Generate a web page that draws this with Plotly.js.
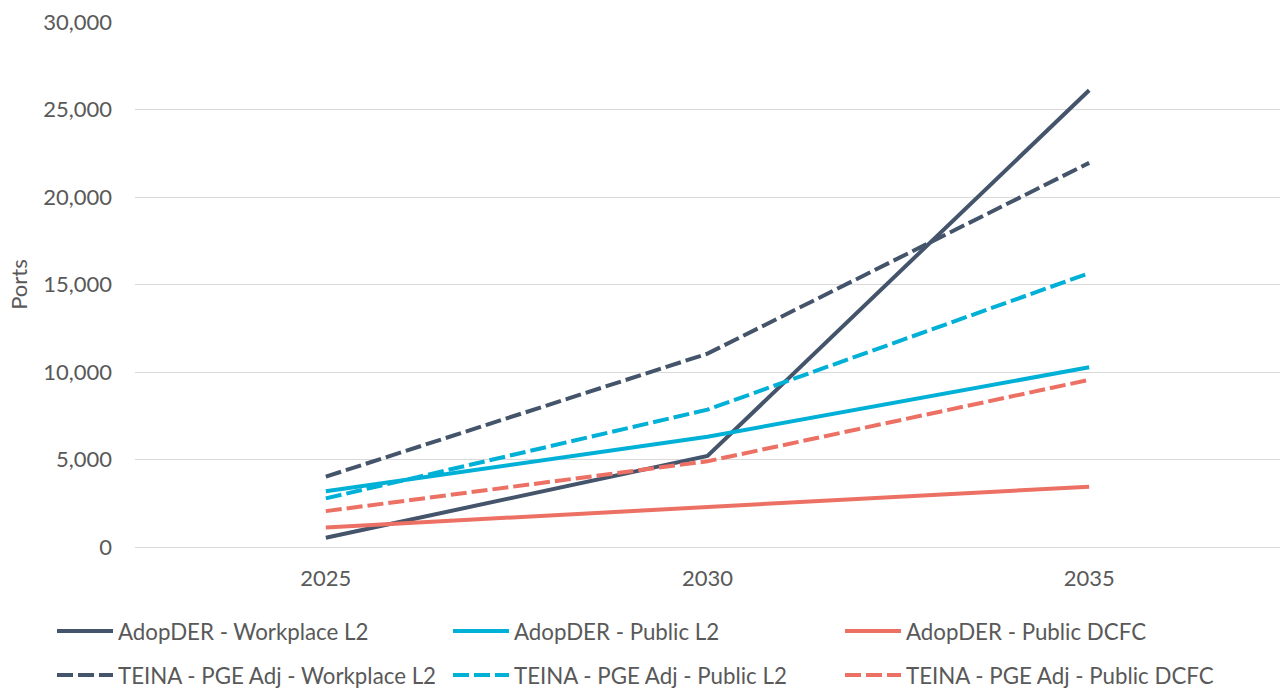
<!DOCTYPE html>
<html>
<head>
<meta charset="utf-8">
<script src="https://cdn.plot.ly/plotly-3.0.1.min.js"></script>
<style>
html,body{margin:0;padding:0;background:#fff;}
#chart{width:1281px;height:688px;}
</style>
</head>
<body>
<div id="chart"></div>
<script>
const years = ['2025', '2030', '2035'];
const adopWorkplaceL2 = [530, 5200, 26100];
const adopPublicL2 = [3180, 6300, 10270];
const adopPublicDCFC = [1120, 2300, 3450];
const teinaWorkplaceL2 = [4020, 11050, 21950];
const teinaPublicL2 = [2780, 7850, 15650];
const teinaPublicDCFC = [2050, 4900, 9550];
const seriesNames = [
  'AdopDER - Workplace L2', 'AdopDER - Public L2', 'AdopDER - Public DCFC',
  'TEINA - PGE Adj - Workplace L2', 'TEINA - PGE Adj - Public L2', 'TEINA - PGE Adj - Public DCFC'
];
const yTicks = [0, 5000, 10000, 15000, 20000, 25000, 30000];
const yTickLabels = ['0', '5,000', '10,000', '15,000', '20,000', '25,000', '30,000'];

const NAVY = '#44546A', CYAN = '#00B0D6', RED = '#EC7063';
const DASH = '16px,5px';
const FONT = 'Lato, "Open Sans", sans-serif';
const TXT = '#595959';

function tr(name, y, color, dash, legend) {
  return {
    type: 'scatter', mode: 'lines', name: name, x: years, y: y,
    line: {color: color, width: 4, dash: dash},
    legend: legend, hoverinfo: 'x+y+name'
  };
}

const data = [
  tr(seriesNames[0], adopWorkplaceL2, NAVY, 'solid', 'legend'),
  tr(seriesNames[1], adopPublicL2, CYAN, 'solid', 'legend2'),
  tr(seriesNames[2], adopPublicDCFC, RED, 'solid', 'legend3'),
  tr(seriesNames[3], teinaWorkplaceL2, NAVY, DASH, 'legend4'),
  tr(seriesNames[4], teinaPublicL2, CYAN, DASH, 'legend5'),
  tr(seriesNames[5], teinaPublicDCFC, RED, DASH, 'legend6')
];

function leg(px, py) {
  return {
    orientation: 'h', xref: 'container', yref: 'container',
    xanchor: 'left', yanchor: 'middle',
    x: px / 1281, y: 1 - py / 688,
    font: {family: FONT, size: 22.3, color: TXT},
    itemwidth: 56,
    bgcolor: 'rgba(0,0,0,0)', borderwidth: 0
  };
}

const layout = {
  width: 1281, height: 688,
  margin: {l: 135, r: 1, t: 22, b: 141},
  paper_bgcolor: '#fff', plot_bgcolor: '#fff',
  font: {family: FONT, size: 22, color: TXT},
  showlegend: true,
  xaxis: {
    type: 'category', range: [-0.5, 2.5],
    showgrid: false, showline: true, linecolor: '#D9D9D9', linewidth: 1,
    ticks: '', ticklabelstandoff: 12,
    tickfont: {family: FONT, size: 22, color: TXT},
    fixedrange: true, zeroline: false
  },
  yaxis: {
    range: [0, 30000], tickvals: yTicks, ticktext: yTickLabels,
    showgrid: true, gridcolor: '#D9D9D9', gridwidth: 1,
    showline: false, zeroline: false, ticks: '', ticklabelstandoff: 22,
    tickfont: {family: FONT, size: 22, color: TXT},
    title: {text: 'Ports', font: {family: FONT, size: 22, color: TXT}, standoff: 9},
    fixedrange: true
  },
  legend: leg(52, 631),
  legend2: leg(448, 631),
  legend3: leg(840, 631),
  legend4: leg(52, 675),
  legend5: leg(448, 675),
  legend6: leg(840, 675)
};

Plotly.newPlot('chart', data, layout, {displayModeBar: false, staticPlot: true});
</script>
</body>
</html>
